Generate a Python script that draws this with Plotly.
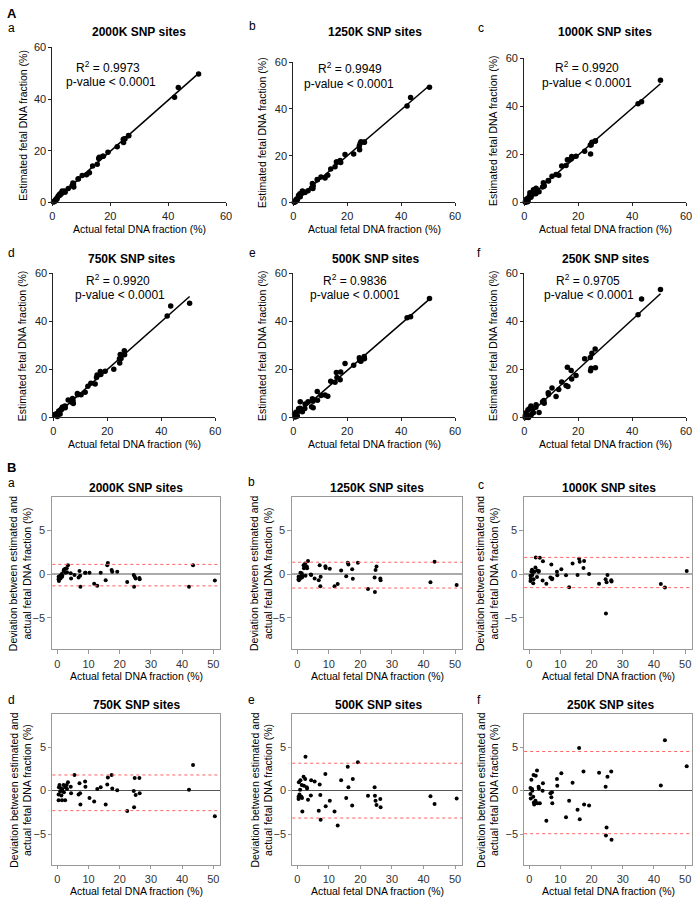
import numpy as np
import plotly.graph_objects as go

W, H = 700, 906
FONT = "Liberation Sans, Arial, sans-serif"

# ---------------- data ----------------
actual = [0.4, 0.4, 0.5, 0.7, 0.9, 1.0, 1.3, 1.4, 1.5, 1.6, 2.0, 2.1, 2.5, 2.6, 3.0, 3.1, 3.4,
          4.3, 4.4, 5.5, 6.8, 7.1, 7.3, 7.4, 8.9, 9.0, 10.3, 11.8, 12.8, 13.9, 15.5, 16.0, 16.2,
          17.4, 17.6, 19.2, 22.4, 24.5, 24.6, 24.8, 25.1, 26.3, 26.4, 42.2, 43.5, 50.5]

dev_2000K = [-0.3, -0.6, -0.8, -0.4, -0.2, -0.5, -0.1, 0.0, -0.3, -0.2, 0.35, 0.5, 0.6, 0.15, 0.65, 0.2, 1.0,
             0.1, -0.5, -0.1, -0.4, 0.35, -0.2, -1.45, 0.15, 0.15, 0.15, -1.1, -1.35, 0.15, -0.7, 1.0, 1.25,
             0.45, 0.25, 0.25, -0.9, -0.1, -1.45, -0.3, -0.5, -0.45, -0.6, -1.45, 1.0, -0.75]
dev_1250K = [-0.3, -0.6, -0.7, -0.4, -0.5, 0.15, -0.3, 0.1, -0.4, -0.2, 1.0, 0.65, 1.2, -0.2, 0.85, 0.65, 1.5,
             -0.05, -0.1, -0.5, -0.7, 1.0, -1.4, -0.3, 0.9, 0.7, 0.6, -1.4, -1.15, 0.4, -0.25, 1.3, 1.1,
             0.55, -0.55, 1.3, -1.7, -0.4, -2.05, 0.45, 0.85, -0.5, -0.7, -0.95, 1.4, -1.25]
dev_1000K = [-0.2, -0.8, -0.5, 0.3, 0.5, -0.1, -1.05, -0.6, 0.3, 0.25, 0.75, 1.9, -0.35, 0.4, 0.25, 0.35, 1.85,
             -0.75, 1.45, -1.1, -0.4, 1.1, -0.6, -0.5, 0.25, -0.15, 0.55, -0.15, -1.5, 1.2, -0.1, 1.75, 1.4,
             0.7, 1.5, 0.0, -1.1, -0.6, -4.5, -0.95, -0.1, -0.7, -0.85, -1.15, -1.55, 0.35]
dev_750K = [-1.1, -0.45, 0.4, 0.65, -0.1, 0.3, -0.55, 0.05, -1.1, 0.2, 0.65, -0.2, -1.1, 0.4, 0.65, 0.2, 0.95,
            0.45, -0.3, 1.8, -0.45, 0.85, -0.3, -1.6, 1.05, 0.45, -0.85, -1.25, 0.2, 0.4, -1.6, 0.7, 1.5,
            1.8, 0.25, 0.05, -2.35, -0.05, -1.9, 1.45, -0.5, 1.45, -0.3, 0.1, 2.95, -2.95]
dev_500K = [-0.7, -0.95, 0.95, -0.45, 0.1, 1.2, -0.7, 0.65, -0.85, -2.4, 1.6, 0.55, 1.35, 3.9, 0.4, 0.25, -1.05,
            -0.55, 1.2, 1.05, -2.3, 0.7, -0.5, -3.35, 1.9, -1.8, -1.15, -2.4, -4.0, 1.2, -0.85, 2.75, 0.4,
            -1.7, 1.35, 3.25, -0.6, 0.4, -0.6, -1.15, -1.65, -0.95, -1.9, -0.65, -1.55, -0.9]
dev_250K = [0.3, -0.4, -0.9, 1.25, 0.2, 0.0, -0.7, 1.8, -1.35, -1.6, -1.15, 1.7, 2.3, -1.45, 0.45, 0.25, -1.45,
            0.0, 0.85, -3.45, -0.3, -0.75, -0.2, -1.45, 1.35, 0.55, 2.0, -3.05, -1.15, 0.9, -2.2, 4.9, -3.3,
            2.2, -1.6, -1.7, 2.05, 0.45, -5.15, -4.25, 1.6, 2.2, -5.65, 0.6, 5.8, 2.8]

panel_names = ["2000K SNP sites", "1250K SNP sites", "1000K SNP sites",
               "750K SNP sites", "500K SNP sites", "250K SNP sites"]
panel_letters = ["a", "b", "c", "d", "e", "f"]
r2_values = ["0.9973", "0.9949", "0.9920", "0.9920", "0.9836", "0.9705"]
loa_upper = [1.1, 1.35, 1.9, 1.8, 3.15, 4.5]
loa_lower = [-1.35, -1.6, -1.55, -2.3, -3.15, -4.95]
deviations = [dev_2000K, dev_1250K, dev_1000K, dev_750K, dev_500K, dev_250K]

a_ticks = [0, 20, 40, 60]
b_xticks = [0, 10, 20, 30, 40, 50]
b_yticks = [-5, 0, 5]

# ---------------- layout geometry (pixels) ----------------
A_boxes = [(50, 226, 42, 199), (294, 458, 57, 199), (528, 692, 53, 199),
           (51, 215, 271, 417), (294, 458, 271, 417), (528, 692, 271, 417)]
B_boxes = [(50, 220, 498, 652), (293, 465, 498, 652), (528, 698, 498, 652),
           (50, 220, 718, 871), (293, 465, 718, 871), (528, 698, 718, 871)]
A_title = [(138, 26), (377, 26), (610, 26), (130, 256), (377, 256), (610, 256)]
B_title = [(135, 488), (379, 488), (614, 488), (135, 708), (380, 708), (615, 708)]
A_r2 = [(106, 62, 109, 77), (352, 63, 351, 79), (592, 62, 592, 78),
        (116, 278, 119, 293), (357, 278, 357, 293), (593, 278, 594, 293)]
A_letter = [(3, 22), (247, 20), (479, 22), (3, 250), (247, 250), (478, 250)]
B_letter = [(3, 483), (246, 482), (479, 485), (3, 703), (246, 703), (478, 703)]
A_ylab_x = [20, 263, 497, 20, 263, 497]
B_ylab_x = [18, 262, 491, 18, 262, 491]
A_xlab_gap = 27
B_xlab_gap = [27, 27, 27, 26, 26, 26]
B_ticklen = [4, 4, 4, 3, 3, 3]


def px(x):
    return x / W


def py(y):
    return 1 - y / H


fig = go.Figure()
annotations = []
shapes = []
layout = {}


def ann(x, y, text, size=11, bold=False, angle=0, xanchor="center"):
    annotations.append(dict(x=px(x), y=py(y), xref="paper", yref="paper", text=f"<b>{text}</b>" if bold else text,
                            showarrow=False, textangle=angle, xanchor=xanchor, yanchor="middle",
                            font=dict(family=FONT, size=size, color="black")))


act = np.array(actual)
for i in range(6):
    n = i + 1
    xs = "x" if n == 1 else f"x{n}"
    ys = "y" if n == 1 else f"y{n}"
    est = act + np.array(deviations[i])
    fig.add_trace(go.Scatter(x=actual, y=est, mode="markers", xaxis=xs, yaxis=ys,
                             marker=dict(color="black", size=5.5), cliponaxis=False, hoverinfo="skip"))
    slope, icpt = np.polyfit(act, est, 1)
    lx = np.array([act.min(), act.max()])
    fig.add_trace(go.Scatter(x=lx, y=icpt + slope * lx, mode="lines", xaxis=xs, yaxis=ys,
                             line=dict(color="black", width=1.5), cliponaxis=False, hoverinfo="skip"))
    l, r, t, b = A_boxes[i]
    axname = "xaxis" if n == 1 else f"xaxis{n}"
    ayname = "yaxis" if n == 1 else f"yaxis{n}"
    common = dict(showline=True, linecolor="#222", linewidth=1, ticks="outside", ticklen=3, tickcolor="#222",
                  showgrid=False, zeroline=False, tickfont=dict(family=FONT, size=11, color="#222"))
    layout[axname] = dict(domain=[px(l), px(r)], range=[0, 60], tickvals=a_ticks, anchor=ys, **common)
    layout[ayname] = dict(domain=[py(b), py(t)], range=[0, 60], tickvals=a_ticks, anchor=xs, **common)
    ann(*A_title[i], panel_names[i], size=12, bold=True)
    rx, ry, pxx, pyy = A_r2[i]
    ann(rx, ry, f"R<sup>2</sup> = {r2_values[i]}", size=12)
    ann(pxx, pyy, "p-value < 0.0001", size=12)
    ann(A_letter[i][0], A_letter[i][1], panel_letters[i], size=12, xanchor="left")
    ann((l + r) / 2, b + A_xlab_gap, "Actual fetal DNA fraction (%)", size=10.5)
    ann(A_ylab_x[i], (t + b) / 2, "Estimated fetal DNA fraction (%)", size=10.5, angle=-90)

for i in range(6):
    n = i + 7
    xs = f"x{n}"
    ys = f"y{n}"
    fig.add_trace(go.Scatter(x=actual, y=deviations[i], mode="markers", xaxis=xs, yaxis=ys,
                             marker=dict(color="black", size=4), hoverinfo="skip"))
    l, r, t, b = B_boxes[i]
    common = dict(showline=True, mirror=True, linecolor="#999", linewidth=1, ticks="outside",
                  ticklen=B_ticklen[i], tickcolor="#999", showgrid=False,
                  tickfont=dict(family=FONT, size=11, color="#333"))
    layout[f"xaxis{n}"] = dict(domain=[px(l), px(r)], range=[-1.6, 52.2], tickvals=b_xticks, anchor=ys,
                              zeroline=False, **common)
    zc = "#aaaaaa" if i < 3 else "#555555"
    zw = 1.6 if i < 3 else 1
    layout[f"yaxis{n}"] = dict(domain=[py(b), py(t)], range=[-8.6, 8.75], tickvals=b_yticks, anchor=xs,
                              zeroline=True, zerolinecolor=zc, zerolinewidth=zw, **common)
    for v in (loa_upper[i], loa_lower[i]):
        shapes.append(dict(type="line", xref=f"{xs} domain", yref=ys, x0=0, x1=1, y0=v, y1=v,
                           line=dict(color="#ff6060", width=1, dash="dot")))
    ann(*B_title[i], panel_names[i], size=12, bold=True)
    ann(B_letter[i][0], B_letter[i][1], panel_letters[i], size=12, xanchor="left")
    ann((l + r) / 2, b + B_xlab_gap[i], "Actual fetal DNA fraction (%)", size=10.5)
    ann(B_ylab_x[i], (t + b) / 2, "Deviation between estimated and<br>actual fetal DNA fraction (%)",
        size=10.5, angle=-90)

ann(2, 8, "A", size=13, bold=True, xanchor="left")
ann(2, 468, "B", size=13, bold=True, xanchor="left")

fig.update_layout(width=W, height=H, margin=dict(l=0, r=0, t=0, b=0), showlegend=False,
                  plot_bgcolor="white", paper_bgcolor="white", annotations=annotations, shapes=shapes,
                  **layout)
fig.write_html("out.html", config={"displayModeBar": False},
               post_script="document.body.style.margin='0px';document.body.style.overflow='hidden';")
